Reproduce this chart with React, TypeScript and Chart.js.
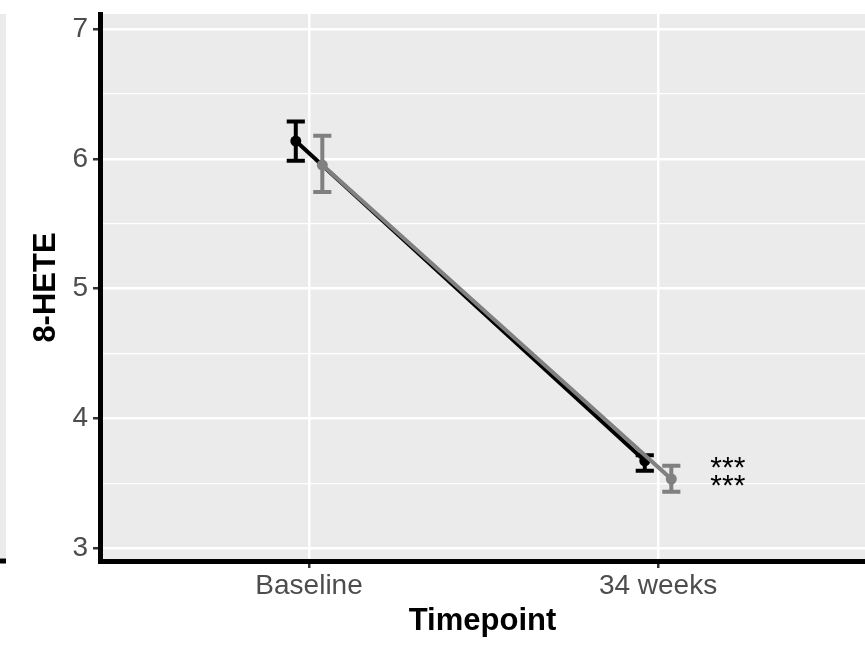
import React, { useEffect, useRef } from 'react';
import { Chart, registerables } from 'chart.js';

Chart.register(...registerables);

const categories = ['Baseline', '34 weeks'];
const yMajorTicks = [3, 4, 5, 6, 7];
const yMinorTicks = [3.5, 4.5, 5.5, 6.5];

const blackMean = [6.137, 3.672];
const blackUpper = [6.287, 3.716];
const blackLower = [5.984, 3.595];

const greyMean = [5.952, 3.532];
const greyUpper = [6.177, 3.634];
const greyLower = [5.744, 3.434];

const blackStars = ['', '***'];
const greyStars = ['', '***'];

const FONT = '"Liberation Sans", Arial, Helvetica, sans-serif';
const DODGE = 0.038;
const CAP_HALF = 0.026;
const STAR_OFFSET = 0.2;

const zeroPad = (s: any) => {
  s.paddingTop = 0;
  s.paddingBottom = 0;
  s.paddingLeft = 0;
  s.paddingRight = 0;
};

const bgPlugin = {
  id: 'panelBg',
  beforeDraw(chart: any) {
    const { ctx, chartArea: a } = chart;
    ctx.save();
    ctx.fillStyle = '#EBEBEB';
    ctx.fillRect(a.left, a.top, a.right - a.left, a.bottom - a.top);
    // edge of the neighbouring facet panel, cut off at the left border
    ctx.fillRect(0, a.top, 6, a.bottom - 3 - a.top);
    ctx.fillStyle = '#000000';
    ctx.fillRect(0, a.bottom - 2.5, 6, 5);
    ctx.restore();
  },
};

const errorPlugin = {
  id: 'errorBars',
  afterDatasetDraw(chart: any, args: any) {
    const ds: any = chart.data.datasets[args.index];
    const { ctx } = chart;
    const x = chart.scales.x;
    const y = chart.scales.y;
    ctx.save();
    ctx.strokeStyle = ds.borderColor;
    ctx.lineWidth = 4;
    ctx.lineCap = 'butt';
    ds.data.forEach((p: any, i: number) => {
      const px = x.getPixelForValue(p.x);
      const l = x.getPixelForValue(p.x - CAP_HALF);
      const r = x.getPixelForValue(p.x + CAP_HALF);
      const t = y.getPixelForValue(ds.upper[i]);
      const b = y.getPixelForValue(ds.lower[i]);
      ctx.beginPath();
      ctx.moveTo(px, t);
      ctx.lineTo(px, b);
      ctx.moveTo(l, t);
      ctx.lineTo(r, t);
      ctx.moveTo(l, b);
      ctx.lineTo(r, b);
      ctx.stroke();
    });
    ctx.restore();
  },
};

const starPlugin = {
  id: 'stars',
  afterDraw(chart: any) {
    const { ctx } = chart;
    const x = chart.scales.x;
    const y = chart.scales.y;
    const fs = 30;
    ctx.save();
    ctx.fillStyle = '#000000';
    ctx.font = `${fs}px ${FONT}`;
    ctx.textAlign = 'center';
    ctx.textBaseline = 'alphabetic';
    const drawSet = (labels: string[], means: number[]) => {
      labels.forEach((s, i) => {
        if (!s) return;
        const px = x.getPixelForValue(i + STAR_OFFSET);
        const py = y.getPixelForValue(means[i]);
        ctx.fillText(s, px, py + 0.57 * fs - 1);
      });
    };
    drawSet(blackStars, blackMean);
    drawSet(greyStars, greyMean);
    ctx.restore();
  },
};

export default function App() {
  const ref = useRef<HTMLCanvasElement | null>(null);

  useEffect(() => {
    if (!ref.current) return;
    const chart = new Chart(ref.current, {
      type: 'line',
      data: {
        datasets: [
          {
            label: 'Group 1',
            data: blackMean.map((v, i) => ({ x: i - DODGE, y: v })),
            upper: blackUpper,
            lower: blackLower,
            borderColor: '#000000',
            backgroundColor: '#000000',
            pointBackgroundColor: '#000000',
            borderWidth: 4,
            pointRadius: 5.5,
            pointBorderWidth: 0,
            order: 1,
          } as any,
          {
            label: 'Group 2',
            data: greyMean.map((v, i) => ({ x: i + DODGE, y: v })),
            upper: greyUpper,
            lower: greyLower,
            borderColor: '#808080',
            backgroundColor: '#808080',
            pointBackgroundColor: '#808080',
            borderWidth: 4,
            pointRadius: 5.5,
            pointBorderWidth: 0,
            order: 0,
          } as any,
        ],
      },
      options: {
        animation: false,
        responsive: false,
        events: [],
        layout: { autoPadding: false, padding: { top: 14, right: 0, bottom: 0, left: 0 } },
        plugins: {
          legend: { display: false },
          tooltip: { enabled: false },
        },
        scales: {
          x: {
            type: 'linear',
            min: -0.599,
            max: 1.593,
            afterBuildTicks: (s: any) => {
              s.ticks = categories.map((_, i) => ({ value: i }));
            },
            afterFit: (s: any) => {
              s.height = 84;
              zeroPad(s);
            },
            ticks: {
              autoSkip: false,
              maxRotation: 0,
              color: '#4D4D4D',
              padding: 1,
              font: { family: FONT, size: 28 },
              callback: (v: any) => categories[v as number] ?? '',
            },
            grid: {
              color: '#FFFFFF',
              lineWidth: 2.5,
              tickLength: 7,
              tickColor: '#333333',
              tickWidth: 2.5,
            },
            border: { display: true, color: '#000000', width: 5 },
            title: {
              display: true,
              text: 'Timepoint',
              color: '#000000',
              font: { family: FONT, size: 31, weight: 'bold', lineHeight: 1.2 },
              padding: { top: 0, bottom: 5 },
            },
          },
          y: {
            type: 'linear',
            min: 2.9,
            max: 7.116,
            afterBuildTicks: (s: any) => {
              s.ticks = [...yMajorTicks, ...yMinorTicks]
                .sort((a, b) => a - b)
                .map((v) => ({ value: v }));
            },
            afterFit: (s: any) => {
              s.width = 100;
              zeroPad(s);
            },
            ticks: {
              autoSkip: false,
              color: '#4D4D4D',
              padding: 5,
              font: { family: FONT, size: 28 },
              callback: (v: any) => (yMajorTicks.includes(v as number) ? String(v) : ''),
            },
            grid: {
              color: '#FFFFFF',
              lineWidth: (c: any) => (yMajorTicks.includes(c.tick?.value) ? 2.5 : 1.2),
              tickLength: 7,
              tickColor: (c: any) => (yMajorTicks.includes(c.tick?.value) ? '#333333' : 'rgba(0,0,0,0)'),
              tickWidth: 2.5,
            },
            border: { display: true, color: '#000000', width: 5 },
            title: {
              display: true,
              text: '8-HETE',
              color: '#000000',
              font: { family: FONT, size: 31, weight: 'bold', lineHeight: 1.2 },
              padding: { top: 28, bottom: 0 },
            },
          },
        },
      } as any,
      plugins: [bgPlugin, errorPlugin, starPlugin],
    });
    return () => chart.destroy();
  }, []);

  return (
    <div style={{ position: 'absolute', left: 0, top: 0, width: 865, height: 645, background: '#FFFFFF' }}>
      <canvas ref={ref} width={865} height={645} />
    </div>
  );
}
